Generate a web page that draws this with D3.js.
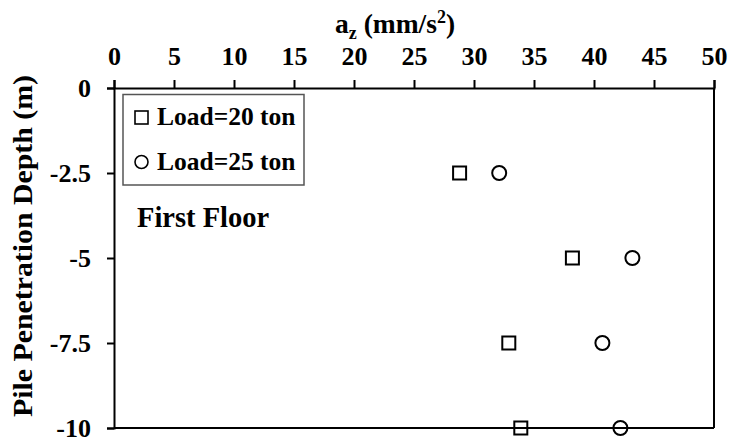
<!DOCTYPE html>
<html><head><meta charset="utf-8">
<script src="https://cdn.jsdelivr.net/npm/d3@7/dist/d3.min.js"></script>
<style>
html,body{margin:0;padding:0;background:#fff;}
svg{display:block;}
text{font-family:"Liberation Serif","Times New Roman",serif;font-weight:bold;fill:#000;}
</style></head>
<body>
<script>
const depth = [-2.5, -5, -7.5, -10];
const load20 = [28.8, 38.2, 32.9, 33.9];
const load25 = [32.1, 43.2, 40.7, 42.2];
const xTicks = [0,5,10,15,20,25,30,35,40,45,50];
const yTicks = [0,-2.5,-5,-7.5,-10];
const legendLabels = ["Load=20 ton","Load=25 ton"];

const W = 729, H = 439;
const svg = d3.select("body").append("svg").attr("width",W).attr("height",H);
const x = d3.scaleLinear().domain([0,50]).range([114,714]);
const y = d3.scaleLinear().domain([0,-10]).range([88,428]);

// frame right & bottom
svg.append("line").attr("x1",x(50)).attr("x2",x(50)).attr("y1",y(0)).attr("y2",y(-10)).attr("stroke","#000").attr("stroke-width",2);
svg.append("line").attr("x1",x(0)).attr("x2",x(50)).attr("y1",y(-10)).attr("y2",y(-10)).attr("stroke","#000").attr("stroke-width",2);

const gx = svg.append("g").attr("transform",`translate(0,${y(0)})`)
  .call(d3.axisTop(x).tickValues(xTicks).tickSize(8).tickPadding(15).tickFormat(d=>String(d)));
const gy = svg.append("g").attr("transform",`translate(${x(0)},0)`)
  .call(d3.axisLeft(y).tickValues(yTicks).tickSize(7).tickPadding(16).tickFormat(d=>String(d)));
[gx,gy].forEach(g=>{
  g.selectAll("path").attr("stroke","#000").attr("stroke-width",2);
  g.selectAll("line").attr("stroke","#000").attr("stroke-width",2);
  g.selectAll("text").style("font-family",'"Liberation Serif",serif').style("font-weight","bold").style("font-size","26px").attr("fill","#000");
});

// x title
const xt = svg.append("text").attr("x",335).attr("y",33).style("font-size","27.5px");
xt.append("tspan").text("a");
xt.append("tspan").attr("dy",6).style("font-size","18px").text("z");
xt.append("tspan").attr("dy",-6).text(" (mm/s");
xt.append("tspan").attr("dy",-10).style("font-size","18px").text("2");
xt.append("tspan").attr("dy",10).text(")");

// y title
svg.append("text").attr("transform","translate(32,246) rotate(-90)").attr("text-anchor","middle")
  .attr("textLength",342).attr("lengthAdjust","spacingAndGlyphs")
  .style("font-size","27px").text("Pile Penetration Depth (m)");

// First Floor
svg.append("text").attr("x",137).attr("y",227).style("font-size","28.5px").text("First Floor");

// legend
svg.append("rect").attr("x",123).attr("y",94.5).attr("width",181).attr("height",90.5)
  .attr("fill","#fff").attr("stroke","#555").attr("stroke-width",1.5);
const lg = svg.append("g");
lg.append("rect").attr("x",135).attr("y",111).attr("width",13).attr("height",13).attr("fill","none").attr("stroke","#000").attr("stroke-width",1.6);
lg.append("circle").attr("cx",141.5).attr("cy",162).attr("r",6.5).attr("fill","none").attr("stroke","#000").attr("stroke-width",1.6);
lg.selectAll("text.l").data(legendLabels).enter().append("text").attr("class","l")
  .attr("x",157).attr("y",(d,i)=>125+i*45).style("font-size","25.5px").text(d=>d);

// markers
const s = 13;
svg.append("g").selectAll("rect").data(depth).enter().append("rect")
  .attr("x",(d,i)=>x(load20[i])-s/2).attr("y",d=>y(d)-s/2).attr("width",s).attr("height",s)
  .attr("fill","none").attr("stroke","#000").attr("stroke-width",2);
svg.append("g").selectAll("circle").data(depth).enter().append("circle")
  .attr("cx",(d,i)=>x(load25[i])).attr("cy",d=>y(d)).attr("r",7)
  .attr("fill","none").attr("stroke","#000").attr("stroke-width",2);
</script>
</body></html>
